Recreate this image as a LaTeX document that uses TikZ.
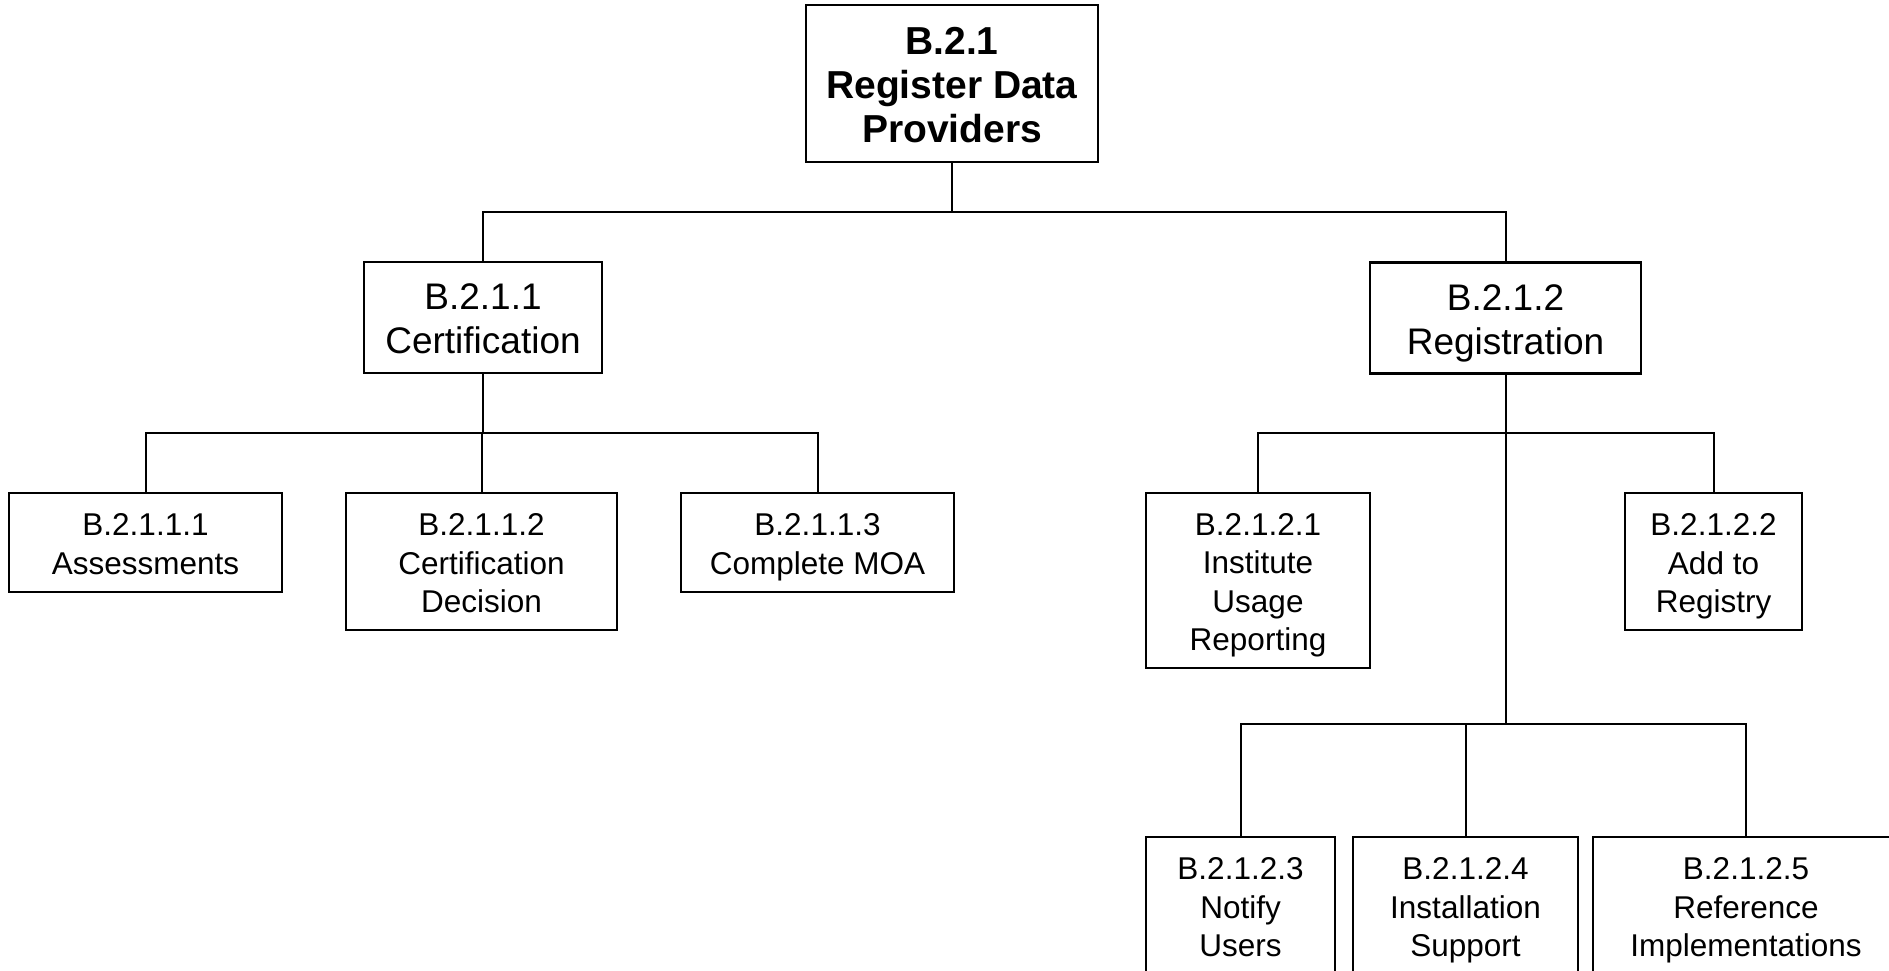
\documentclass[tikz,border=0pt]{standalone}
\usepackage{fontspec}
\setmainfont{Liberation Sans}
\newcommand{\tpst}{\rule{0pt}{31pt}}
\newcommand{\mdst}{\rule{0pt}{36.5pt}}
\newcommand{\mden}{\rule[-7.8pt]{0pt}{7.8pt}}
\newcommand{\lfst}{\rule{0pt}{31.6pt}}
\newcommand{\lfen}{\rule[-6.6pt]{0pt}{6.6pt}}
\tikzset{
  box/.style={draw=black, line width=2.6pt, rectangle, inner sep=0pt, align=center, fill=white},
  topbox/.style={box, font=\fontsize{39}{44}\selectfont\bfseries},
  midbox/.style={box, font=\fontsize{37}{44}\selectfont},
  leafbox/.style={box, font=\fontsize{31.5}{38.5}\selectfont},
  link/.style={draw=black, line width=2pt}
}
\begin{document}
\begin{tikzpicture}[x=1pt,y=-1pt]
\useasboundingbox (0,0) rectangle (1889,971);
\clip (0,0) rectangle (1889,971);
\fill[white] (0,0) rectangle (1889,971);

% junction points
\coordinate (j0) at (952,212);
\coordinate (j1) at (483,433);
\coordinate (j2) at (1505.5,433);
\coordinate (j3) at (1505.5,724);

% nodes
\node[topbox, minimum width=292pt, minimum height=157pt] (top) at (952,83.5) {\tpst B.2.1\\Register Data\\Providers};
\node[midbox, minimum width=238pt, minimum height=111pt] (cert) at (483,317.5) {\mdst B.2.1.1\\Certification\mden};
\node[midbox, minimum width=271pt, minimum height=111pt] (reg) at (1505.5,318) {\mdst B.2.1.2\\Registration\mden};

\node[leafbox, minimum width=273pt, minimum height=99pt] (a1) at (145.5,542.5) {\lfst B.2.1.1.1\\Assessments\lfen};
\node[leafbox, minimum width=271pt, minimum height=137pt] (a2) at (481.5,561.5) {\lfst B.2.1.1.2\\Certification\\Decision\lfen};
\node[leafbox, minimum width=273pt, minimum height=99pt] (a3) at (817.5,542.5) {\lfst B.2.1.1.3\\Complete MOA\lfen};

\node[leafbox, minimum width=224pt, minimum height=175pt] (r1) at (1258,580.5) {\lfst B.2.1.2.1\\Institute\\Usage\\Reporting\lfen};
\node[leafbox, minimum width=177pt, minimum height=137pt] (r2) at (1713.5,561.5) {\lfst B.2.1.2.2\\Add to\\Registry\lfen};

\node[leafbox, minimum width=189pt, minimum height=137pt] (r3) at (1240.5,905.5) {\lfst B.2.1.2.3\\Notify\\Users\lfen};
\node[leafbox, minimum width=225pt, minimum height=137pt] (r4) at (1465.5,905.5) {\lfst B.2.1.2.4\\Installation\\Support\lfen};
\node[leafbox, minimum width=306pt, minimum height=137pt] (r5) at (1746,905.5) {\lfst B.2.1.2.5\\Reference\\Implementations\lfen};

% connectors
\draw[link] (top.south) -- (top.south |- j0);
\draw[link] (cert.north) |- (j0) -| (reg.north);

\draw[link] (cert.south) -- (j1);
\draw[link] (a1.north) |- (j1) -| (a3.north);
\draw[link] (a2.north) |- (j1);

\draw[link] (reg.south) -- (j3);
\draw[link] (r1.north) |- (j2) -| (r2.north);
\draw[link] (r3.north) |- (j3) -| (r5.north);
\draw[link] (r4.north) |- (j3);
\end{tikzpicture}
\end{document}
